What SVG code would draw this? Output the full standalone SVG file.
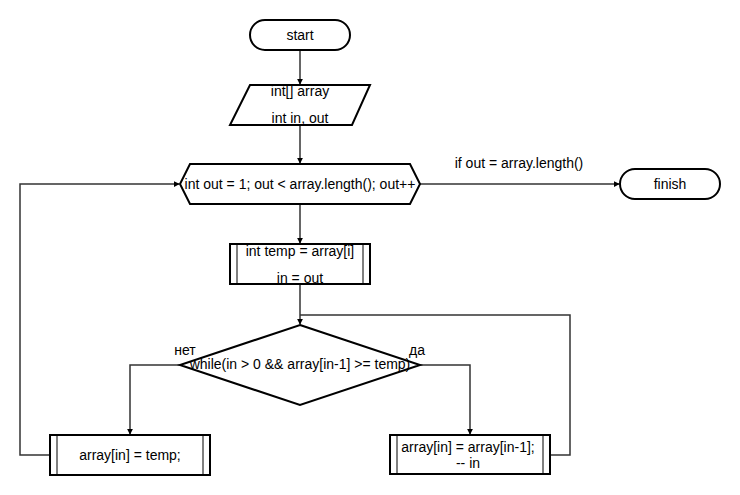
<svg xmlns="http://www.w3.org/2000/svg" width="740" height="495" viewBox="0 0 740 495">
  <defs>
    <marker id="arrow" viewBox="0 0 8 8" refX="7" refY="4" markerWidth="6" markerHeight="6" markerUnits="userSpaceOnUse" orient="auto">
      <path d="M0,0 L8,4 L0,8 Z" fill="#000"/>
    </marker>
    <style>
      .shape { fill: #fff; stroke: #000; stroke-width: 2; }
      .inner { stroke: #808080; stroke-width: 2; }
      .edge { fill: none; stroke: #333; stroke-width: 1.5; }
      .arrowed { marker-end: url(#arrow); }
      text { font-family: "Liberation Sans", Arial, sans-serif; font-size: 14px; fill: #000; text-anchor: middle; }
    </style>
  </defs>
  <rect width="740" height="495" fill="#fff"/>

  <!-- connectors -->
  <g id="connectors">
    <path class="edge arrowed" d="M300,50 V84"/>
    <path class="edge arrowed" d="M300,125 V163"/>
    <path class="edge arrowed" d="M300,204 V243"/>
    <path class="edge arrowed" d="M300,284 V324"/>
    <path class="edge arrowed" d="M420,184 H619"/>
    <path class="edge arrowed" d="M50,455 H20 V184 H179"/>
    <path class="edge arrowed" d="M180,365 H130 V434"/>
    <path class="edge arrowed" d="M420,365 H470 V434"/>
    <path class="edge" d="M550,455 H570 V315 H300"/>
    <text x="519" y="168">if out = array.length()</text>
    <text x="185" y="355">нет</text>
    <text x="417" y="355">да</text>
  </g>

  <g id="start">
    <rect class="shape" x="250" y="20" width="100" height="30" rx="15"/>
    <text x="300" y="40">start</text>
  </g>

  <g id="input">
    <polygon class="shape" points="250,85 370,85 352,125 230,125"/>
    <text x="300" y="96">int[] array</text>
    <text x="300" y="123">int in, out</text>
  </g>

  <g id="loop">
    <polygon class="shape" points="190,164 410,164 420,184 410,204 190,204 180,184"/>
    <text x="300" y="189">int out = 1; out &lt; array.length(); out++</text>
  </g>

  <g id="finish">
    <rect class="shape" x="620" y="169" width="100" height="30" rx="15"/>
    <text x="670" y="189">finish</text>
  </g>

  <g id="init">
    <rect class="shape" x="230" y="244" width="140" height="40"/>
    <line class="inner" x1="237" y1="245" x2="237" y2="283"/>
    <line class="inner" x1="363" y1="245" x2="363" y2="283"/>
    <text x="300" y="256">int temp = array[i]</text>
    <text x="300" y="283">in = out</text>
  </g>

  <g id="condition">
    <polygon class="shape" points="300,325 420,365 300,405 180,365"/>
    <text x="300" y="369">while(in &gt; 0 &amp;&amp; array[in-1] &gt;= temp)</text>
  </g>

  <g id="store">
    <rect class="shape" x="50" y="435" width="160" height="40"/>
    <line class="inner" x1="57" y1="436" x2="57" y2="474"/>
    <line class="inner" x1="203" y1="436" x2="203" y2="474"/>
    <text x="130" y="460">array[in] = temp;</text>
  </g>

  <g id="shift">
    <rect class="shape" x="390" y="435" width="160" height="39"/>
    <line class="inner" x1="397" y1="436" x2="397" y2="473"/>
    <line class="inner" x1="543" y1="436" x2="543" y2="473"/>
    <text x="468" y="452">array[in] = array[in-1];</text>
    <text x="468" y="468">-- in</text>
  </g>
</svg>
